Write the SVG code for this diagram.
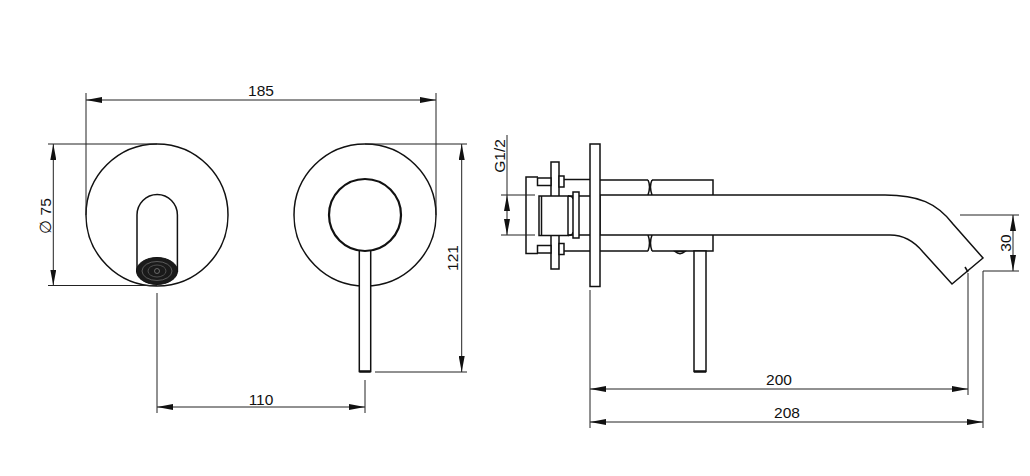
<svg xmlns="http://www.w3.org/2000/svg" width="1030" height="476" viewBox="0 0 1030 476">
<style>
.o{fill:#fff;stroke:#111;stroke-width:1.5}
.n{fill:none;stroke:#111;stroke-width:1.5}
.t{fill:none;stroke:#111;stroke-width:2.4}
.d{fill:none;stroke:#222;stroke-width:1}
.a{marker-start:url(#ah);marker-end:url(#ah)}
text{font-family:"Liberation Sans",Arial,sans-serif;font-size:15.5px;fill:#111;text-anchor:middle}
</style>
<defs><marker id="ah" viewBox="0 0 16 6" refX="16" refY="3" markerWidth="16" markerHeight="6" markerUnits="userSpaceOnUse" orient="auto-start-reverse"><path d="M0 0L16 3L0 6Z" fill="#111"/></marker></defs>
<rect width="1030" height="476" fill="#fff"/>
<g id="front-spout">
<circle class="o" cx="157" cy="215" r="71"/>
<path class="n" d="M137 272V215A20.2 20.500 0 0 1 177.400 215V272"/>
<ellipse cx="157" cy="271" rx="20.500" ry="13.500" fill="#1a1a1a" stroke="#111"/>
<ellipse cx="157" cy="271" rx="15" ry="9.500" fill="none" stroke="#777" stroke-width=".7"/>
<ellipse cx="157" cy="271" rx="9" ry="6" fill="none" stroke="#666" stroke-width=".7"/>
<circle cx="157" cy="271" r="2.500" fill="none" stroke="#888" stroke-width=".7"/>
</g>
<g id="front-mixer">
<circle class="o" cx="365" cy="215" r="71"/>
<rect class="o" x="359.300" y="250" width="11.400" height="121.500"/>
<path class="t" d="M359.300 371.500H370.700"/>
<circle cx="365" cy="215" r="36" fill="#fff" stroke="#111" stroke-width="2.200"/>
</g>
<g id="side-view">
<path class="n" d="M538 177H526V253.500H538"/>
<rect class="o" x="551" y="162" width="8" height="107"/>
<rect class="o" x="537.500" y="178" width="13.500" height="7.500"/>
<rect class="o" x="537.500" y="245.500" width="13.500" height="7.500"/>
<rect class="o" x="559" y="176" width="5" height="11"/>
<rect class="o" x="559" y="243.500" width="5" height="11"/>
<path class="n" d="M564 179.500H590M564 251H590M568 196H590M568 235H590"/>
<rect class="o" x="539" y="196" width="29" height="39.500"/>
<path class="n" d="M541.500 196V235.500"/>
<path class="n" d="M568 196Q573 196 573 199M568 235.500Q573 235.500 573 232"/>
<rect class="o" x="573" y="192" width="6" height="46"/>
<path class="n" d="M600 180H648M600 251H648M652 180H713V251H652M648 180Q651 186 648 195M652 180Q649 186 652 195M648 235Q651 243 648 251M652 235Q649 243 652 251"/>
<path class="o" d="M675 251.500Q680 256 685 251.500Z"/>
<rect class="o" x="694" y="251" width="12" height="120.500"/>
<path class="t" d="M694 371.500H706"/>
<path class="o" d="M600 195H885C918 195 937 203 953 224L983 258L952 284L923 252C914 241 904 235 890 235H600Z"/>
<path class="n" d="M965 267L968 272"/>
<rect class="o" x="590" y="144" width="10" height="142.500"/>
</g>
<g id="connectors">
<path class="d a" d="M86 100H436"/>
<path class="d" d="M86 93V215M436 93V215"/>
<path class="d a" d="M53.300 144V285.500"/>
<path class="d" d="M48 144H157M48 285.500H157"/>
<path class="d a" d="M461.700 144V372"/>
<path class="d" d="M365 144H467M375 372H467"/>
<path class="d a" d="M157 407H365"/>
<path class="d" d="M157 293V413M365 380V413"/>
<path class="d a" d="M507 195V235"/>
<path class="d" d="M507 135V195M501 195H535M501 235H535"/>
<path class="d a" d="M590 389H968"/>
<path class="d a" d="M590 422H983"/>
<path class="d" d="M590 290V428M968 273V395M983 271V428"/>
<path class="d a" d="M1013 215V271"/>
<path class="d" d="M960 215H1019M983 271H1019"/>
</g>
<g id="labels">
<text x="261" y="96">185</text>
<text x="261" y="405">110</text>
<text x="779" y="385">200</text>
<text x="787" y="418">208</text>
<text transform="translate(50.500 216) rotate(-90)">∅ 75</text>
<text transform="translate(457.500 258) rotate(-90)">121</text>
<text transform="translate(504.500 156) rotate(-90)">G1/2</text>
<text transform="translate(1011 243) rotate(-90)">30</text>
</g>
</svg>
